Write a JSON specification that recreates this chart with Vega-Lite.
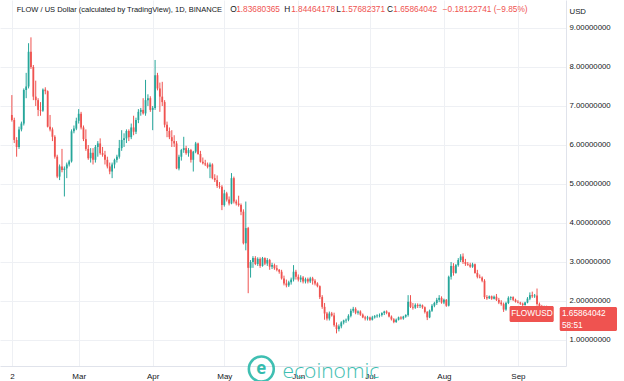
{
  "$schema": "https://vega.github.io/schema/vega-lite/v6.json",
  "width": 566,
  "height": 366,
  "autosize": "none",
  "padding": {"left": 0, "top": 0, "right": 58, "bottom": 15},
  "background": "#ffffff",
  "config": {
    "view": {"stroke": null},
    "font": "Liberation Sans",
    "axis": {"labelFont": "Liberation Sans", "titleFont": "Liberation Sans"}
  },
  "datasets": {
    "candles": [
      {"t":"2022-02-01","o":6.77,"h":7.28,"l":6.60,"c":6.64},
      {"t":"2022-02-02","o":6.64,"h":6.70,"l":6.05,"c":6.13},
      {"t":"2022-02-03","o":6.13,"h":6.20,"l":5.70,"c":5.95},
      {"t":"2022-02-04","o":5.95,"h":6.47,"l":5.90,"c":6.40},
      {"t":"2022-02-05","o":6.40,"h":6.60,"l":6.35,"c":6.55},
      {"t":"2022-02-06","o":6.55,"h":7.45,"l":6.50,"c":7.41},
      {"t":"2022-02-07","o":7.41,"h":7.85,"l":7.20,"c":7.50},
      {"t":"2022-02-08","o":7.50,"h":8.61,"l":7.45,"c":8.39},
      {"t":"2022-02-09","o":8.39,"h":8.76,"l":7.95,"c":8.00},
      {"t":"2022-02-10","o":8.00,"h":8.05,"l":7.15,"c":7.24},
      {"t":"2022-02-11","o":7.24,"h":7.65,"l":7.00,"c":7.15},
      {"t":"2022-02-12","o":7.15,"h":7.20,"l":6.74,"c":6.90},
      {"t":"2022-02-13","o":6.90,"h":7.10,"l":6.75,"c":6.88},
      {"t":"2022-02-14","o":6.88,"h":7.45,"l":6.85,"c":7.42},
      {"t":"2022-02-15","o":7.42,"h":7.48,"l":7.30,"c":7.38},
      {"t":"2022-02-16","o":7.38,"h":7.40,"l":6.45,"c":6.47},
      {"t":"2022-02-17","o":6.47,"h":6.77,"l":6.35,"c":6.40},
      {"t":"2022-02-18","o":6.40,"h":6.45,"l":6.10,"c":6.21},
      {"t":"2022-02-19","o":6.21,"h":6.25,"l":5.65,"c":5.70},
      {"t":"2022-02-20","o":5.70,"h":5.75,"l":5.15,"c":5.19},
      {"t":"2022-02-21","o":5.19,"h":5.50,"l":5.10,"c":5.45},
      {"t":"2022-02-22","o":5.45,"h":5.90,"l":5.30,"c":5.36},
      {"t":"2022-02-23","o":5.36,"h":5.45,"l":4.68,"c":5.40},
      {"t":"2022-02-24","o":5.40,"h":5.55,"l":5.15,"c":5.50},
      {"t":"2022-02-25","o":5.50,"h":5.62,"l":5.45,"c":5.58},
      {"t":"2022-02-26","o":5.58,"h":6.40,"l":5.55,"c":6.35},
      {"t":"2022-02-27","o":6.35,"h":6.50,"l":6.30,"c":6.42},
      {"t":"2022-02-28","o":6.42,"h":6.70,"l":6.38,"c":6.62},
      {"t":"2022-03-01","o":6.62,"h":6.92,"l":6.55,"c":6.80},
      {"t":"2022-03-02","o":6.80,"h":6.85,"l":6.40,"c":6.45},
      {"t":"2022-03-03","o":6.45,"h":6.50,"l":6.10,"c":6.15},
      {"t":"2022-03-04","o":6.15,"h":6.40,"l":5.85,"c":5.90},
      {"t":"2022-03-05","o":5.90,"h":6.00,"l":5.62,"c":5.66},
      {"t":"2022-03-06","o":5.66,"h":5.92,"l":5.55,"c":5.80},
      {"t":"2022-03-07","o":5.80,"h":5.92,"l":5.50,"c":5.62},
      {"t":"2022-03-08","o":5.62,"h":6.00,"l":5.55,"c":5.95},
      {"t":"2022-03-09","o":5.95,"h":6.10,"l":5.70,"c":6.04},
      {"t":"2022-03-10","o":6.04,"h":6.17,"l":5.75,"c":5.79},
      {"t":"2022-03-11","o":5.79,"h":5.95,"l":5.70,"c":5.75},
      {"t":"2022-03-12","o":5.75,"h":5.85,"l":5.50,"c":5.62},
      {"t":"2022-03-13","o":5.62,"h":5.70,"l":5.40,"c":5.45},
      {"t":"2022-03-14","o":5.45,"h":5.55,"l":5.25,"c":5.32},
      {"t":"2022-03-15","o":5.32,"h":5.55,"l":5.15,"c":5.50},
      {"t":"2022-03-16","o":5.50,"h":5.65,"l":5.40,"c":5.62},
      {"t":"2022-03-17","o":5.62,"h":5.75,"l":5.55,"c":5.70},
      {"t":"2022-03-18","o":5.70,"h":6.13,"l":5.65,"c":5.92},
      {"t":"2022-03-19","o":5.92,"h":6.38,"l":5.85,"c":6.13},
      {"t":"2022-03-20","o":6.13,"h":6.30,"l":5.95,"c":6.17},
      {"t":"2022-03-21","o":6.17,"h":6.40,"l":6.05,"c":6.36},
      {"t":"2022-03-22","o":6.36,"h":6.40,"l":6.10,"c":6.20},
      {"t":"2022-03-23","o":6.20,"h":6.55,"l":6.15,"c":6.45},
      {"t":"2022-03-24","o":6.45,"h":6.75,"l":6.25,"c":6.34},
      {"t":"2022-03-25","o":6.34,"h":6.70,"l":6.28,"c":6.64},
      {"t":"2022-03-26","o":6.64,"h":6.92,"l":6.56,"c":6.85},
      {"t":"2022-03-27","o":6.85,"h":6.95,"l":6.75,"c":6.90},
      {"t":"2022-03-28","o":6.90,"h":7.20,"l":6.78,"c":6.81},
      {"t":"2022-03-29","o":6.81,"h":7.67,"l":6.75,"c":7.15},
      {"t":"2022-03-30","o":7.15,"h":7.30,"l":7.00,"c":7.20},
      {"t":"2022-03-31","o":7.20,"h":7.25,"l":6.85,"c":6.90},
      {"t":"2022-04-01","o":6.90,"h":7.00,"l":6.38,"c":6.95},
      {"t":"2022-04-02","o":6.95,"h":8.18,"l":6.90,"c":7.79},
      {"t":"2022-04-03","o":7.79,"h":7.85,"l":7.40,"c":7.45},
      {"t":"2022-04-04","o":7.45,"h":7.60,"l":6.85,"c":7.24},
      {"t":"2022-04-05","o":7.24,"h":7.62,"l":7.00,"c":7.10},
      {"t":"2022-04-06","o":7.10,"h":7.15,"l":6.45,"c":6.52},
      {"t":"2022-04-07","o":6.52,"h":6.60,"l":6.20,"c":6.36},
      {"t":"2022-04-08","o":6.36,"h":6.45,"l":6.15,"c":6.20},
      {"t":"2022-04-09","o":6.20,"h":6.38,"l":5.95,"c":6.10},
      {"t":"2022-04-10","o":6.10,"h":6.25,"l":5.95,"c":6.04},
      {"t":"2022-04-11","o":6.04,"h":6.10,"l":5.38,"c":5.40},
      {"t":"2022-04-12","o":5.40,"h":5.75,"l":5.35,"c":5.70},
      {"t":"2022-04-13","o":5.70,"h":5.90,"l":5.60,"c":5.87},
      {"t":"2022-04-14","o":5.87,"h":6.21,"l":5.80,"c":5.92},
      {"t":"2022-04-15","o":5.92,"h":5.98,"l":5.75,"c":5.79},
      {"t":"2022-04-16","o":5.79,"h":5.92,"l":5.70,"c":5.87},
      {"t":"2022-04-17","o":5.87,"h":5.90,"l":5.55,"c":5.62},
      {"t":"2022-04-18","o":5.62,"h":5.85,"l":5.32,"c":5.83},
      {"t":"2022-04-19","o":5.83,"h":6.08,"l":5.79,"c":6.04},
      {"t":"2022-04-20","o":6.04,"h":6.06,"l":5.75,"c":5.77},
      {"t":"2022-04-21","o":5.77,"h":5.85,"l":5.55,"c":5.57},
      {"t":"2022-04-22","o":5.57,"h":5.68,"l":5.50,"c":5.53},
      {"t":"2022-04-23","o":5.53,"h":5.62,"l":5.46,"c":5.50},
      {"t":"2022-04-24","o":5.50,"h":5.55,"l":5.40,"c":5.44},
      {"t":"2022-04-25","o":5.44,"h":5.55,"l":5.15,"c":5.50},
      {"t":"2022-04-26","o":5.50,"h":5.53,"l":5.12,"c":5.15},
      {"t":"2022-04-27","o":5.15,"h":5.25,"l":5.05,"c":5.10},
      {"t":"2022-04-28","o":5.10,"h":5.22,"l":4.90,"c":4.95},
      {"t":"2022-04-29","o":4.95,"h":5.05,"l":4.88,"c":4.93},
      {"t":"2022-04-30","o":4.93,"h":4.97,"l":4.33,"c":4.46},
      {"t":"2022-05-01","o":4.46,"h":4.85,"l":4.42,"c":4.76},
      {"t":"2022-05-02","o":4.76,"h":4.80,"l":4.55,"c":4.60},
      {"t":"2022-05-03","o":4.60,"h":4.68,"l":4.45,"c":4.50},
      {"t":"2022-05-04","o":4.50,"h":5.28,"l":4.48,"c":5.15},
      {"t":"2022-05-05","o":5.15,"h":5.19,"l":4.50,"c":4.55},
      {"t":"2022-05-06","o":4.55,"h":4.60,"l":4.45,"c":4.50},
      {"t":"2022-05-07","o":4.50,"h":4.70,"l":4.42,"c":4.46},
      {"t":"2022-05-08","o":4.46,"h":4.50,"l":4.20,"c":4.29},
      {"t":"2022-05-09","o":4.29,"h":4.35,"l":3.45,"c":3.48},
      {"t":"2022-05-10","o":3.48,"h":4.55,"l":3.30,"c":3.87},
      {"t":"2022-05-11","o":3.87,"h":3.90,"l":2.20,"c":2.85},
      {"t":"2022-05-12","o":2.85,"h":3.05,"l":2.60,"c":3.00},
      {"t":"2022-05-13","o":3.00,"h":3.15,"l":2.85,"c":3.10},
      {"t":"2022-05-14","o":3.10,"h":3.15,"l":2.92,"c":2.95},
      {"t":"2022-05-15","o":2.95,"h":3.12,"l":2.90,"c":3.08},
      {"t":"2022-05-16","o":3.08,"h":3.12,"l":2.85,"c":2.90},
      {"t":"2022-05-17","o":2.90,"h":3.13,"l":2.88,"c":3.10},
      {"t":"2022-05-18","o":3.10,"h":3.12,"l":2.92,"c":2.96},
      {"t":"2022-05-19","o":2.96,"h":3.10,"l":2.90,"c":3.05},
      {"t":"2022-05-20","o":3.05,"h":3.08,"l":2.80,"c":2.88},
      {"t":"2022-05-21","o":2.88,"h":2.98,"l":2.82,"c":2.92},
      {"t":"2022-05-22","o":2.92,"h":2.96,"l":2.80,"c":2.84},
      {"t":"2022-05-23","o":2.84,"h":2.92,"l":2.76,"c":2.80},
      {"t":"2022-05-24","o":2.80,"h":2.82,"l":2.70,"c":2.75},
      {"t":"2022-05-25","o":2.75,"h":2.80,"l":2.55,"c":2.58},
      {"t":"2022-05-26","o":2.58,"h":2.65,"l":2.40,"c":2.45},
      {"t":"2022-05-27","o":2.45,"h":2.55,"l":2.35,"c":2.40},
      {"t":"2022-05-28","o":2.40,"h":2.52,"l":2.36,"c":2.48},
      {"t":"2022-05-29","o":2.48,"h":2.60,"l":2.42,"c":2.55},
      {"t":"2022-05-30","o":2.55,"h":2.92,"l":2.50,"c":2.75},
      {"t":"2022-05-31","o":2.75,"h":2.80,"l":2.55,"c":2.62},
      {"t":"2022-06-01","o":2.62,"h":2.68,"l":2.50,"c":2.55},
      {"t":"2022-06-02","o":2.55,"h":2.66,"l":2.48,"c":2.60},
      {"t":"2022-06-03","o":2.60,"h":2.64,"l":2.45,"c":2.50},
      {"t":"2022-06-04","o":2.50,"h":2.60,"l":2.45,"c":2.56},
      {"t":"2022-06-05","o":2.56,"h":2.60,"l":2.45,"c":2.50},
      {"t":"2022-06-06","o":2.50,"h":2.62,"l":2.46,"c":2.58},
      {"t":"2022-06-07","o":2.58,"h":2.62,"l":2.42,"c":2.52},
      {"t":"2022-06-08","o":2.52,"h":2.56,"l":2.40,"c":2.45},
      {"t":"2022-06-09","o":2.45,"h":2.48,"l":2.35,"c":2.38},
      {"t":"2022-06-10","o":2.38,"h":2.40,"l":2.05,"c":2.10},
      {"t":"2022-06-11","o":2.10,"h":2.15,"l":1.80,"c":1.85},
      {"t":"2022-06-12","o":1.85,"h":1.95,"l":1.52,"c":1.68},
      {"t":"2022-06-13","o":1.68,"h":1.72,"l":1.50,"c":1.55},
      {"t":"2022-06-14","o":1.55,"h":1.73,"l":1.50,"c":1.68},
      {"t":"2022-06-15","o":1.68,"h":1.72,"l":1.60,"c":1.63},
      {"t":"2022-06-16","o":1.63,"h":1.70,"l":1.34,"c":1.38},
      {"t":"2022-06-17","o":1.38,"h":1.45,"l":1.17,"c":1.28},
      {"t":"2022-06-18","o":1.28,"h":1.40,"l":1.22,"c":1.35},
      {"t":"2022-06-19","o":1.35,"h":1.48,"l":1.30,"c":1.45},
      {"t":"2022-06-20","o":1.45,"h":1.52,"l":1.40,"c":1.50},
      {"t":"2022-06-21","o":1.50,"h":1.55,"l":1.44,"c":1.52},
      {"t":"2022-06-22","o":1.52,"h":1.66,"l":1.48,"c":1.62},
      {"t":"2022-06-23","o":1.62,"h":1.80,"l":1.58,"c":1.75},
      {"t":"2022-06-24","o":1.75,"h":1.85,"l":1.70,"c":1.80},
      {"t":"2022-06-25","o":1.80,"h":1.84,"l":1.66,"c":1.70},
      {"t":"2022-06-26","o":1.70,"h":1.76,"l":1.65,"c":1.73},
      {"t":"2022-06-27","o":1.73,"h":1.76,"l":1.62,"c":1.65},
      {"t":"2022-06-28","o":1.65,"h":1.68,"l":1.56,"c":1.58},
      {"t":"2022-06-29","o":1.58,"h":1.62,"l":1.50,"c":1.55},
      {"t":"2022-06-30","o":1.55,"h":1.62,"l":1.50,"c":1.58},
      {"t":"2022-07-01","o":1.58,"h":1.60,"l":1.49,"c":1.52},
      {"t":"2022-07-02","o":1.52,"h":1.62,"l":1.50,"c":1.58},
      {"t":"2022-07-03","o":1.58,"h":1.64,"l":1.55,"c":1.61},
      {"t":"2022-07-04","o":1.61,"h":1.66,"l":1.57,"c":1.63},
      {"t":"2022-07-05","o":1.63,"h":1.68,"l":1.58,"c":1.64},
      {"t":"2022-07-06","o":1.64,"h":1.71,"l":1.60,"c":1.69},
      {"t":"2022-07-07","o":1.69,"h":1.75,"l":1.64,"c":1.73},
      {"t":"2022-07-08","o":1.73,"h":1.76,"l":1.66,"c":1.70},
      {"t":"2022-07-09","o":1.70,"h":1.72,"l":1.58,"c":1.60},
      {"t":"2022-07-10","o":1.60,"h":1.63,"l":1.50,"c":1.53},
      {"t":"2022-07-11","o":1.53,"h":1.56,"l":1.43,"c":1.46},
      {"t":"2022-07-12","o":1.46,"h":1.55,"l":1.44,"c":1.52},
      {"t":"2022-07-13","o":1.52,"h":1.60,"l":1.50,"c":1.58},
      {"t":"2022-07-14","o":1.58,"h":1.61,"l":1.52,"c":1.55},
      {"t":"2022-07-15","o":1.55,"h":1.62,"l":1.52,"c":1.60},
      {"t":"2022-07-16","o":1.60,"h":1.66,"l":1.57,"c":1.64},
      {"t":"2022-07-17","o":1.64,"h":2.15,"l":1.60,"c":1.98},
      {"t":"2022-07-18","o":1.98,"h":2.15,"l":1.82,"c":1.85},
      {"t":"2022-07-19","o":1.85,"h":1.95,"l":1.78,"c":1.83},
      {"t":"2022-07-20","o":1.83,"h":1.94,"l":1.80,"c":1.90},
      {"t":"2022-07-21","o":1.90,"h":1.94,"l":1.82,"c":1.87},
      {"t":"2022-07-22","o":1.87,"h":1.93,"l":1.82,"c":1.89},
      {"t":"2022-07-23","o":1.89,"h":1.91,"l":1.80,"c":1.84},
      {"t":"2022-07-24","o":1.84,"h":1.86,"l":1.68,"c":1.72},
      {"t":"2022-07-25","o":1.72,"h":1.74,"l":1.51,"c":1.58},
      {"t":"2022-07-26","o":1.58,"h":1.78,"l":1.56,"c":1.75},
      {"t":"2022-07-27","o":1.75,"h":1.92,"l":1.72,"c":1.88},
      {"t":"2022-07-28","o":1.88,"h":1.98,"l":1.84,"c":1.95},
      {"t":"2022-07-29","o":1.95,"h":2.08,"l":1.90,"c":2.03},
      {"t":"2022-07-30","o":2.03,"h":2.15,"l":1.97,"c":2.08},
      {"t":"2022-07-31","o":2.08,"h":2.12,"l":1.93,"c":1.96},
      {"t":"2022-08-01","o":1.96,"h":2.06,"l":1.92,"c":2.03},
      {"t":"2022-08-02","o":2.03,"h":2.05,"l":1.85,"c":1.88},
      {"t":"2022-08-03","o":1.88,"h":2.65,"l":1.86,"c":2.62},
      {"t":"2022-08-04","o":2.62,"h":3.00,"l":2.55,"c":2.90},
      {"t":"2022-08-05","o":2.90,"h":2.97,"l":2.65,"c":2.72},
      {"t":"2022-08-06","o":2.72,"h":2.95,"l":2.70,"c":2.92},
      {"t":"2022-08-07","o":2.92,"h":3.10,"l":2.88,"c":3.05},
      {"t":"2022-08-08","o":3.05,"h":3.20,"l":3.00,"c":3.14},
      {"t":"2022-08-09","o":3.14,"h":3.22,"l":2.95,"c":3.00},
      {"t":"2022-08-10","o":3.00,"h":3.08,"l":2.90,"c":2.95},
      {"t":"2022-08-11","o":2.95,"h":3.00,"l":2.90,"c":2.93},
      {"t":"2022-08-12","o":2.93,"h":2.98,"l":2.85,"c":2.88},
      {"t":"2022-08-13","o":2.88,"h":2.98,"l":2.85,"c":2.94},
      {"t":"2022-08-14","o":2.94,"h":2.96,"l":2.70,"c":2.72},
      {"t":"2022-08-15","o":2.72,"h":2.80,"l":2.58,"c":2.62},
      {"t":"2022-08-16","o":2.62,"h":2.68,"l":2.58,"c":2.60},
      {"t":"2022-08-17","o":2.60,"h":2.63,"l":2.48,"c":2.52},
      {"t":"2022-08-18","o":2.52,"h":2.56,"l":2.05,"c":2.10},
      {"t":"2022-08-19","o":2.10,"h":2.15,"l":2.03,"c":2.07},
      {"t":"2022-08-20","o":2.07,"h":2.14,"l":2.05,"c":2.12},
      {"t":"2022-08-21","o":2.12,"h":2.14,"l":2.03,"c":2.06},
      {"t":"2022-08-22","o":2.06,"h":2.14,"l":2.04,"c":2.11},
      {"t":"2022-08-23","o":2.11,"h":2.18,"l":2.00,"c":2.03},
      {"t":"2022-08-24","o":2.03,"h":2.08,"l":1.92,"c":1.96},
      {"t":"2022-08-25","o":1.96,"h":2.02,"l":1.88,"c":1.92},
      {"t":"2022-08-26","o":1.92,"h":1.96,"l":1.72,"c":1.78},
      {"t":"2022-08-27","o":1.78,"h":1.98,"l":1.75,"c":1.95},
      {"t":"2022-08-28","o":1.95,"h":2.12,"l":1.92,"c":2.08},
      {"t":"2022-08-29","o":2.08,"h":2.12,"l":2.02,"c":2.10},
      {"t":"2022-08-30","o":2.10,"h":2.12,"l":2.00,"c":2.03},
      {"t":"2022-08-31","o":2.03,"h":2.06,"l":1.96,"c":1.98},
      {"t":"2022-09-01","o":1.98,"h":2.02,"l":1.94,"c":1.96},
      {"t":"2022-09-02","o":1.96,"h":1.98,"l":1.90,"c":1.93},
      {"t":"2022-09-03","o":1.93,"h":1.96,"l":1.86,"c":1.90},
      {"t":"2022-09-04","o":1.90,"h":1.98,"l":1.88,"c":1.96},
      {"t":"2022-09-05","o":1.96,"h":2.10,"l":1.94,"c":2.06},
      {"t":"2022-09-06","o":2.06,"h":2.22,"l":2.02,"c":2.15},
      {"t":"2022-09-07","o":2.15,"h":2.24,"l":2.08,"c":2.12},
      {"t":"2022-09-08","o":2.12,"h":2.18,"l":2.08,"c":2.14},
      {"t":"2022-09-09","o":2.14,"h":2.32,"l":1.88,"c":1.92},
      {"t":"2022-09-10","o":1.92,"h":1.96,"l":1.84,"c":1.86},
      {"t":"2022-09-11","o":1.86,"h":1.90,"l":1.80,"c":1.84},
      {"t":"2022-09-12","o":1.84,"h":1.88,"l":1.80,"c":1.86},
      {"t":"2022-09-13","o":1.86,"h":1.88,"l":1.80,"c":1.83},
      {"t":"2022-09-14","o":1.83,"h":1.86,"l":1.78,"c":1.84},
      {"t":"2022-09-15","o":1.83680365,"h":1.84464178,"l":1.57682371,"c":1.65864042}
    ]
  },
  "layer": [
    {
      "data": {"name": "candles"},
      "mark": {"type": "rule", "strokeWidth": 1},
      "encoding": {
        "x": {
          "field": "t", "type": "temporal",
          "scale": {"type": "utc", "domain": [{"year": 2022, "month": 1, "date": 29, "hours": 3, "utc": true}, {"year": 2022, "month": 9, "date": 19, "hours": 1, "utc": true}]},
          "axis": {
            "title": null,
            "values": [
              {"year": 2022, "month": 2, "date": 1, "utc": true},
              {"year": 2022, "month": 3, "date": 1, "utc": true},
              {"year": 2022, "month": 4, "date": 1, "utc": true},
              {"year": 2022, "month": 5, "date": 1, "utc": true},
              {"year": 2022, "month": 6, "date": 1, "utc": true},
              {"year": 2022, "month": 7, "date": 1, "utc": true},
              {"year": 2022, "month": 8, "date": 1, "utc": true},
              {"year": 2022, "month": 9, "date": 1, "utc": true}
            ],
            "labelExpr": "utcFormat(datum.value, '%m') == '02' ? '2' : utcFormat(datum.value, '%b')",
            "grid": true, "gridColor": "#eef0f4", "gridWidth": 1,
            "domain": true, "domainColor": "#e0e3eb",
            "ticks": false, "labelPadding": 6, "labelFontSize": 8,
            "labelColor": "#131722", "labelAlign": "center", "labelFlush": false, "labelOverlap": false
          }
        },
        "y": {
          "field": "l", "type": "quantitative",
          "scale": {"domain": [0.3333, 9.7179], "nice": false, "zero": false},
          "axis": {
            "orient": "right", "values": [1, 2, 3, 4, 5, 6, 7, 8, 9], "format": ".8f",
            "grid": true, "gridColor": "#eef0f4", "domain": true, "domainColor": "#e0e3eb",
            "ticks": false, "labelAlign": "left", "labelPadding": 3, "labelFontSize": 7.8,
            "labelColor": "#131722", "labelBaseline": "middle",
            "title": "USD", "titleAngle": 0, "titleX": 3, "titleY": 11, "titleAlign": "left",
            "titleBaseline": "middle", "titleFontSize": 7.8, "titleFontWeight": "normal", "titleColor": "#131722"
          }
        },
        "y2": {"field": "h"},
        "color": {"condition": {"test": "datum.c < datum.o", "value": "#ef5350"}, "value": "#26a69a"}
      }
    },
    {
      "data": {"name": "candles"},
      "mark": {"type": "bar", "size": 1.8},
      "encoding": {
        "x": {"field": "t", "type": "temporal"},
        "y": {"field": "o", "type": "quantitative"},
        "y2": {"field": "c"},
        "color": {"condition": {"test": "datum.c < datum.o", "value": "#ef5350"}, "value": "#26a69a"}
      }
    },
    {
      "mark": {"type": "rule", "color": "#ef5350", "strokeDash": [1, 2], "strokeWidth": 1},
      "encoding": {"y": {"datum": 1.65864042, "type": "quantitative"}}
    },
    {
      "data": {"values": [
        {"t": "2022-02-03T01:24:00Z", "s": "FLOW / US Dollar (calculated by TradingView), 1D, BINANCE"}
      ]},
      "mark": {"type": "text", "align": "left", "baseline": "middle", "fontSize": 7.5, "font": "Liberation Sans", "color": "#131722"},
      "encoding": {
        "x": {"field": "t", "type": "temporal"},
        "y": {"datum": 9.46, "type": "quantitative"},
        "text": {"field": "s"}
      }
    },
    {
      "data": {"values": [
        {"t": "2022-05-03T11:30:00Z", "s": "O", "k": "n"},
        {"t": "2022-05-05T23:00:00Z", "s": "1.83680365", "k": "v"},
        {"t": "2022-05-26T02:30:00Z", "s": "H", "k": "n"},
        {"t": "2022-05-29T00:00:00Z", "s": "1.84464178", "k": "v"},
        {"t": "2022-06-16T22:20:00Z", "s": "L", "k": "n"},
        {"t": "2022-06-18T23:40:00Z", "s": "1.57682371", "k": "v"},
        {"t": "2022-07-08T04:50:00Z", "s": "C", "k": "n"},
        {"t": "2022-07-10T19:20:00Z", "s": "1.65864042", "k": "v"},
        {"t": "2022-07-31T12:00:00Z", "s": "−0.18122741 (−9.85%)", "k": "v"}
      ]},
      "mark": {"type": "text", "align": "left", "baseline": "middle", "fontSize": 8.3, "font": "Liberation Sans"},
      "encoding": {
        "x": {"field": "t", "type": "temporal"},
        "y": {"datum": 9.46, "type": "quantitative"},
        "text": {"field": "s"},
        "color": {"field": "k", "type": "nominal", "scale": {"domain": ["n", "v"], "range": ["#131722", "#ef5350"]}, "legend": null}
      }
    },
    {
      "data": {"values": [
        {"t1": "2022-08-28T12:00:00Z", "t2": "2022-09-16T00:00:00Z", "v1": 1.872, "v2": 1.462},
        {"t1": "2022-09-18T12:00:00Z", "t2": "2022-10-12T12:00:00Z", "v1": 1.846, "v2": 1.231}
      ]},
      "mark": {"type": "rect", "color": "#ef5350", "cornerRadius": 1.5},
      "encoding": {
        "x": {"field": "t1", "type": "temporal"},
        "x2": {"field": "t2"},
        "y": {"field": "v1", "type": "quantitative"},
        "y2": {"field": "v2"}
      }
    },
    {
      "data": {"values": [
        {"t": "2022-08-29T04:00:00Z", "v": 1.667, "s": "FLOWUSD", "k": "b"},
        {"t": "2022-09-19T10:00:00Z", "v": 1.654, "s": "1.65864042", "k": "b"},
        {"t": "2022-09-19T10:00:00Z", "v": 1.359, "s": "58:51", "k": "r"}
      ]},
      "mark": {"type": "text", "align": "left", "baseline": "middle", "fontSize": 8.3, "color": "#ffffff", "font": "Liberation Sans"},
      "encoding": {
        "x": {"field": "t", "type": "temporal"},
        "y": {"field": "v", "type": "quantitative"},
        "text": {"field": "s"},
        "fontWeight": {"field": "k", "type": "nominal", "scale": {"domain": ["b", "r"], "range": ["bold", "normal"]}, "legend": null}
      }
    },
    {
      "data": {"values": [{"t": "2022-05-16T12:00:00Z", "v": 0.256}]},
      "mark": {"type": "point", "shape": "circle", "filled": false, "size": 620, "stroke": "#35bcae", "strokeWidth": 2.6, "opacity": 0.95},
      "encoding": {
        "x": {"field": "t", "type": "temporal"},
        "y": {"field": "v", "type": "quantitative"}
      }
    },
    {
      "data": {"values": [{"t": "2022-05-16T12:00:00Z", "v": 0.256, "s": "e"}]},
      "mark": {"type": "text", "align": "center", "baseline": "middle", "fontSize": 17, "fontWeight": "bold", "color": "#35bcae", "font": "Open Sans"},
      "encoding": {
        "x": {"field": "t", "type": "temporal"},
        "y": {"field": "v", "type": "quantitative"},
        "text": {"field": "s"}
      }
    },
    {
      "data": {"values": [{"t": "2022-05-25T10:00:00Z", "v": 0.03, "s": "ecoinomic"}]},
      "mark": {"type": "text", "align": "left", "baseline": "alphabetic", "fontSize": 21, "fontWeight": 300, "color": "#35bcae", "font": "Open Sans", "opacity": 0.95},
      "encoding": {
        "x": {"field": "t", "type": "temporal"},
        "y": {"field": "v", "type": "quantitative"},
        "text": {"field": "s"}
      }
    }
  ]
}
